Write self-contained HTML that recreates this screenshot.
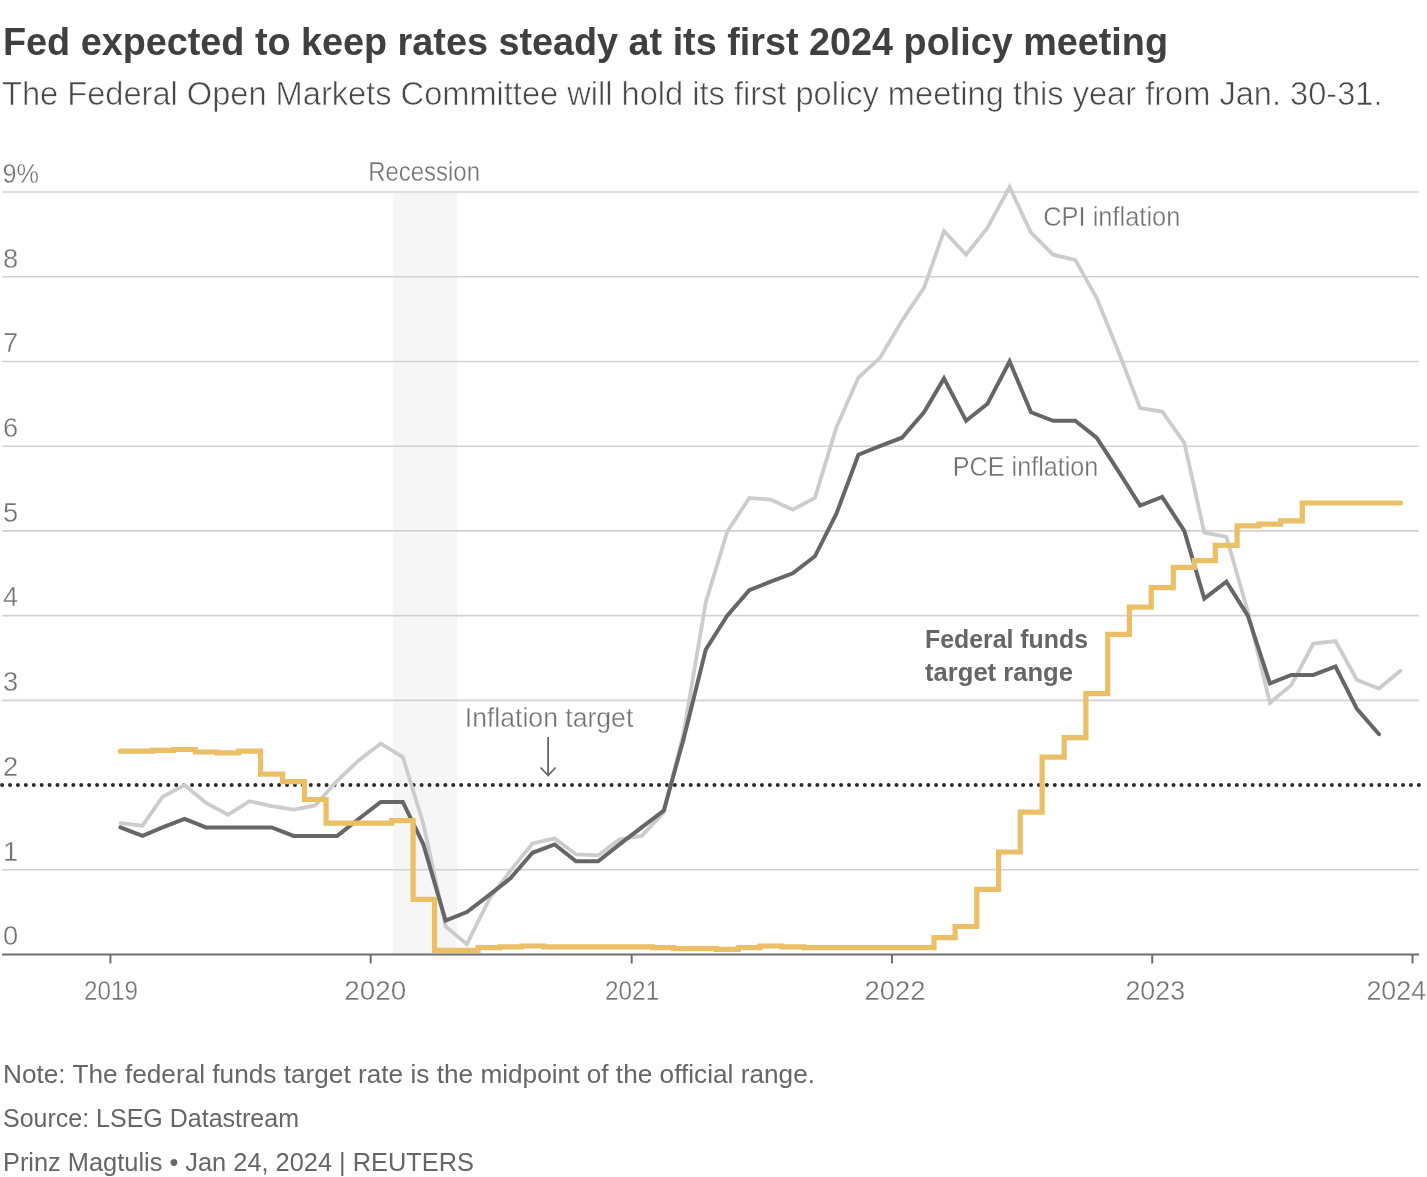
<!DOCTYPE html>
<html><head><meta charset="utf-8">
<style>
html,body{margin:0;padding:0;background:#fff;}
body{width:1427px;height:1177px;overflow:hidden;}
svg{display:block;will-change:transform;font-family:"Liberation Sans",sans-serif;}
.g{stroke:#d2d2d2;stroke-width:1.6;}
.tk{stroke:#6e6e6e;stroke-width:2;}
.ax{font-size:27.3px;fill:#727272;stroke:#fff;stroke-width:0.35px;}
.lab{font-size:27.3px;fill:#727272;stroke:#fff;stroke-width:0.35px;}
.ft{font-size:25.5px;fill:#666;}
</style></head>
<body>
<svg width="1427" height="1177" viewBox="0 0 1427 1177">
<rect x="0" y="0" width="1427" height="1177" fill="#fff"/>
<text x="3" y="55" font-size="38.5" font-weight="bold" fill="#404040" textLength="1165" lengthAdjust="spacingAndGlyphs">Fed expected to keep rates steady at its first 2024 policy meeting</text>
<text x="2" y="104.8" font-size="32.8" fill="#474747" stroke="#fff" stroke-width="0.6" textLength="1380.5" lengthAdjust="spacingAndGlyphs">The Federal Open Markets Committee will hold its first policy meeting this year from Jan. 30-31.</text>
<rect x="392.8" y="192.8" width="64.2" height="761.7" fill="#f6f6f6"/>
<line x1="2" y1="869.78" x2="1419" y2="869.78" class="g"/>
<line x1="2" y1="700.35" x2="1419" y2="700.35" class="g"/>
<line x1="2" y1="615.63" x2="1419" y2="615.63" class="g"/>
<line x1="2" y1="530.92" x2="1419" y2="530.92" class="g"/>
<line x1="2" y1="446.20" x2="1419" y2="446.20" class="g"/>
<line x1="2" y1="361.48" x2="1419" y2="361.48" class="g"/>
<line x1="2" y1="276.77" x2="1419" y2="276.77" class="g"/>
<line x1="2" y1="192.05" x2="1419" y2="192.05" class="g"/>

<line x1="2.1" y1="785.1" x2="1419" y2="785.1" stroke="#2b2b2b" stroke-width="4" stroke-linecap="round" stroke-dasharray="0 7.915"/>
<line x1="2" y1="954.5" x2="1419" y2="954.5" stroke="#6e6e6e" stroke-width="2"/>
<line x1="110.40" y1="954.5" x2="110.40" y2="963.5" class="tk"/>
<line x1="370.68" y1="954.5" x2="370.68" y2="963.5" class="tk"/>
<line x1="631.67" y1="954.5" x2="631.67" y2="963.5" class="tk"/>
<line x1="891.95" y1="954.5" x2="891.95" y2="963.5" class="tk"/>
<line x1="1152.22" y1="954.5" x2="1152.22" y2="963.5" class="tk"/>
<line x1="1412.50" y1="954.5" x2="1412.50" y2="963.5" class="tk"/>

<text x="3" y="945.3" class="ax">0</text>
<text x="3" y="860.6" class="ax">1</text>
<text x="3" y="775.9" class="ax">2</text>
<text x="3" y="691.1" class="ax">3</text>
<text x="3" y="606.4" class="ax">4</text>
<text x="3" y="521.7" class="ax">5</text>
<text x="3" y="437.0" class="ax">6</text>
<text x="3" y="352.3" class="ax">7</text>
<text x="3" y="267.6" class="ax">8</text>
<text x="2.5" y="182.8" class="ax" textLength="36.5" lengthAdjust="spacingAndGlyphs">9%</text>

<text x="84.0" y="1000.2" class="ax" textLength="53.9" lengthAdjust="spacingAndGlyphs">2019</text>
<text x="344.2" y="1000.2" class="ax" textLength="62.0" lengthAdjust="spacingAndGlyphs">2020</text>
<text x="605.0" y="1000.2" class="ax" textLength="54.2" lengthAdjust="spacingAndGlyphs">2021</text>
<text x="864.6" y="1000.2" class="ax" textLength="61.0" lengthAdjust="spacingAndGlyphs">2022</text>
<text x="1125.4" y="1000.2" class="ax" textLength="59.7" lengthAdjust="spacingAndGlyphs">2023</text>
<text x="1366.4" y="1000.2" class="ax" textLength="59.7" lengthAdjust="spacingAndGlyphs">2024</text>

<text x="368.2" y="181" class="lab" textLength="111.8" lengthAdjust="spacingAndGlyphs">Recession</text>
<text x="1043.2" y="225.7" class="lab" textLength="137.2" lengthAdjust="spacingAndGlyphs">CPI inflation</text>
<text x="952.8" y="476.2" class="lab" textLength="145.5" lengthAdjust="spacingAndGlyphs">PCE inflation</text>
<text x="464.8" y="727" class="lab" textLength="168.5" lengthAdjust="spacingAndGlyphs">Inflation target</text>
<path d="M548.1,737 V775.5 M540.6,767.5 L548.1,775.5 L555.6,767.5" fill="none" stroke="#666" stroke-width="1.8"/>
<polyline points="120.4,823.2 142.5,825.7 162.5,796.9 184.6,785.1 206.0,802.9 228.1,814.7 249.5,801.2 271.6,806.2 293.7,809.6 315.1,805.4 337.2,780.8 358.6,760.5 380.7,743.6 402.8,757.1 423.4,824.0 445.6,926.5 466.9,944.3 489.1,899.4 510.4,870.6 532.5,843.5 554.7,838.4 576.0,854.5 598.2,855.4 619.5,839.3 641.7,835.9 663.8,812.2 683.7,732.5 705.8,602.1 727.2,531.8 749.3,497.9 770.7,499.6 792.8,509.7 814.9,497.9 836.3,427.6 858.4,377.6 879.8,358.1 901.9,320.8 924.0,287.8 944.0,231.0 966.1,254.7 987.5,227.6 1009.6,187.0 1031.0,232.7 1053.1,254.7 1075.2,259.8 1096.6,297.9 1118.7,352.2 1140.1,408.1 1162.2,411.5 1184.3,442.8 1204.3,532.6 1226.4,536.8 1247.8,611.4 1269.9,702.9 1291.3,685.1 1313.4,643.6 1335.5,641.0 1356.9,680.0 1379.0,688.5 1400.4,670.7" fill="none" stroke="#cccccc" stroke-width="3.8" stroke-linejoin="miter" stroke-linecap="round"/>
<polyline points="120.4,827.4 142.5,835.9 162.5,827.4 184.6,819.0 206.0,827.4 228.1,827.4 249.5,827.4 271.6,827.4 293.7,835.9 315.1,835.9 337.2,835.9 358.6,819.0 380.7,802.0 402.8,802.0 423.4,844.4 445.6,920.6 466.9,912.1 489.1,895.2 510.4,878.3 532.5,852.8 554.7,844.4 576.0,861.3 598.2,861.3 619.5,844.4 641.7,827.4 663.8,810.5 683.7,738.5 705.8,649.5 727.2,615.6 749.3,590.2 770.7,581.7 792.8,573.3 814.9,556.3 836.3,514.0 858.4,454.7 879.8,446.2 901.9,437.7 924.0,412.3 944.0,378.4 966.1,420.8 987.5,403.8 1009.6,361.5 1031.0,412.3 1053.1,420.8 1075.2,420.8 1096.6,437.7 1118.7,471.6 1140.1,505.5 1162.2,497.0 1184.3,530.9 1204.3,598.7 1226.4,581.7 1247.8,615.6 1269.9,683.4 1291.3,674.9 1313.4,674.9 1335.5,666.5 1356.9,708.8 1379.0,734.2" fill="none" stroke="#666666" stroke-width="4" stroke-linejoin="miter" stroke-linecap="round"/>
<path d="M120.4,751.2H131.4V751.2H152.5V750.3H173.5V749.5H195.3V752.0H217.0V752.9H238.8V751.2H260.5V774.1H282.6V781.7H304.4V799.5H326.1V823.2H347.9V823.2H369.6V823.2H391.7V820.6H413.1V899.4H434.5V950.3H456.2V950.3H478.0V947.7H499.7V946.9H521.5V946.0H543.6V946.9H565.4V946.9H587.1V946.9H608.8V946.9H630.6V946.9H652.7V947.7H673.7V948.6H694.8V948.6H716.5V949.4H738.3V947.7H760.0V946.0H781.8V946.9H803.9V947.7H825.6V947.7H847.4V947.7H869.1V947.7H890.9V947.7H913.0V947.7H934.0V937.6H955.1V926.5H976.8V889.3H998.6V852.0H1020.3V812.2H1042.1V757.1H1064.2V737.6H1085.9V693.6H1107.7V634.3H1129.4V607.2H1151.2V587.7H1173.3V567.3H1194.3V560.6H1215.3V545.3H1237.1V525.8H1258.8V524.1H1280.6V520.8H1302.3V503.0H1324.4V503.0H1346.2V503.0H1367.9V503.0H1389.7V503.0H1400.4" fill="none" stroke="#ebbf66" stroke-width="5.2" stroke-linejoin="miter" stroke-linecap="round"/>
<text x="925" y="647.9" font-size="25.5" font-weight="bold" fill="#666" textLength="163" lengthAdjust="spacingAndGlyphs">Federal funds</text>
<text x="925" y="680.9" font-size="25.5" font-weight="bold" fill="#666" textLength="148" lengthAdjust="spacingAndGlyphs">target range</text>
<text x="3" y="1083.3" class="ft" textLength="812" lengthAdjust="spacingAndGlyphs">Note: The federal funds target rate is the midpoint of the official range.</text>
<text x="3" y="1127.1" class="ft" textLength="296" lengthAdjust="spacingAndGlyphs">Source: LSEG Datastream</text>
<text x="3" y="1170.5" class="ft" textLength="471" lengthAdjust="spacingAndGlyphs">Prinz Magtulis • Jan 24, 2024 | REUTERS</text>
</svg>
</body></html>
